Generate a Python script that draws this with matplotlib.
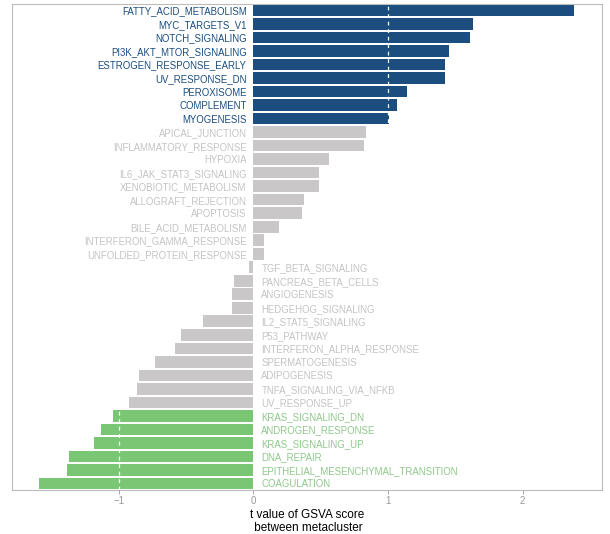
import numpy as np
import matplotlib
matplotlib.use("Agg")
import matplotlib.pyplot as plt

plt.rcParams['font.family'] = ['Liberation Sans', 'DejaVu Sans']

# pathways, top to bottom, and their t values
pathways = [
    "FATTY_ACID_METABOLISM", "MYC_TARGETS_V1", "NOTCH_SIGNALING",
    "PI3K_AKT_MTOR_SIGNALING", "ESTROGEN_RESPONSE_EARLY", "UV_RESPONSE_DN",
    "PEROXISOME", "COMPLEMENT", "MYOGENESIS",
    "APICAL_JUNCTION", "INFLAMMATORY_RESPONSE", "HYPOXIA",
    "IL6_JAK_STAT3_SIGNALING", "XENOBIOTIC_METABOLISM", "ALLOGRAFT_REJECTION",
    "APOPTOSIS", "BILE_ACID_METABOLISM", "INTERFERON_GAMMA_RESPONSE",
    "UNFOLDED_PROTEIN_RESPONSE", "TGF_BETA_SIGNALING", "PANCREAS_BETA_CELLS",
    "ANGIOGENESIS", "HEDGEHOG_SIGNALING", "IL2_STAT5_SIGNALING",
    "P53_PATHWAY", "INTERFERON_ALPHA_RESPONSE", "SPERMATOGENESIS",
    "ADIPOGENESIS", "TNFA_SIGNALING_VIA_NFKB", "UV_RESPONSE_UP",
    "KRAS_SIGNALING_DN", "ANDROGEN_RESPONSE", "KRAS_SIGNALING_UP",
    "DNA_REPAIR", "EPITHELIAL_MESENCHYMAL_TRANSITION", "COAGULATION",
]
t_values = [
    2.38, 1.63, 1.61, 1.45, 1.42, 1.42, 1.14, 1.07, 1.01,
    0.84, 0.82, 0.56, 0.49, 0.49, 0.38, 0.36, 0.19, 0.08, 0.08,
    -0.03, -0.14, -0.16, -0.16, -0.37, -0.54, -0.58, -0.73, -0.85, -0.86, -0.92,
    -1.04, -1.13, -1.18, -1.37, -1.38, -1.59,
]
cutoff = 1

bar_up, bar_mid, bar_down = "#1b4d7e", "#c9c7c8", "#79c774"
txt_up, txt_mid, txt_down = "#1b4d7e", "#c4c4c4", "#8fc98b"

t = np.array(t_values)
y = np.arange(len(t))[::-1]
bar_cols = np.where(t > cutoff, bar_up, np.where(t < -cutoff, bar_down, bar_mid))
txt_cols = np.where(t > cutoff, txt_up, np.where(t < -cutoff, txt_down, txt_mid))

fig = plt.figure(figsize=(6.1, 5.34), dpi=100)
ax = fig.add_axes([0.02, 0.082, 0.967, 0.911])

ax.barh(y, t, height=0.86, color=bar_cols, zorder=2)
for xv in (-cutoff, cutoff):
    ax.axvline(xv, color="white", lw=0.9, ls=(0, (3, 3)), zorder=3)

for yi, v, name, c in zip(y, t, pathways, txt_cols):
    if v > 0:
        ax.text(-0.05, yi, name, ha="right", va="center_baseline", fontsize=6.9, color=c)
    else:
        ax.text(0.06, yi, name, ha="left", va="center_baseline", fontsize=6.9, color=c)

ax.set_xlim(-1.79, 2.59)
ax.set_ylim(-0.5, len(t) - 0.5)
ax.set_yticks([])
ax.set_xticks([-1, 0, 1, 2])
ax.tick_params(axis="x", colors="#999999", labelsize=7, length=3, width=0.6, pad=1.5)
for s in ax.spines.values():
    s.set_color("#bbbbbb")
    s.set_linewidth(0.8)
ax.set_xlabel("t value of GSVA score\n between metacluster", fontsize=8.5, color="black",
              labelpad=2, linespacing=1.1)

fig.savefig("out.png", dpi=100)
